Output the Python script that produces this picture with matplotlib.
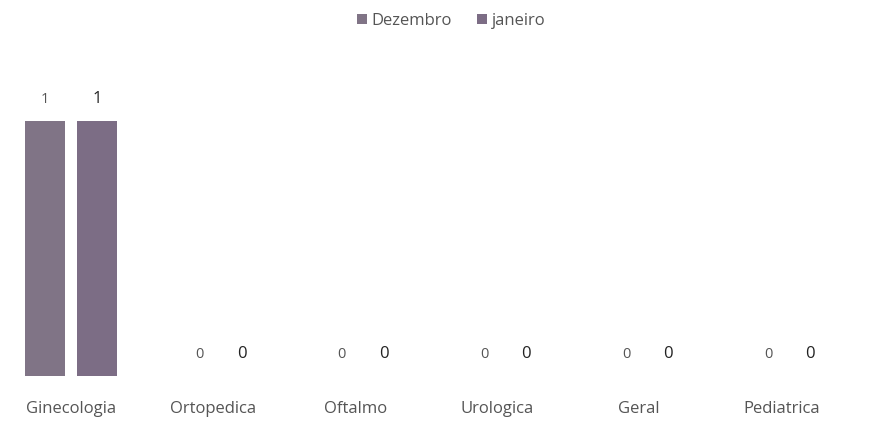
import numpy as np
import matplotlib.pyplot as plt

plt.rcParams['font.family'] = ['Open Sans', 'DejaVu Sans']

# dados
categorias = ['Ginecologia', 'Ortopedica', 'Oftalmo', 'Urologica', 'Geral', 'Pediatrica']
dezembro = [1, 0, 0, 0, 0, 0]
janeiro = [1, 0, 0, 0, 0, 0]

x = np.arange(len(categorias))
w = 0.28
off = 0.183

fig = plt.figure(figsize=(8.76, 4.23), dpi=100)
ax = fig.add_axes([0.0, 0.111, 0.973, 0.724])

b1 = ax.bar(x - off, dezembro, w, color='#807486', label='Dezembro')
b2 = ax.bar(x + off, janeiro, w, color='#7c6d85', label='janeiro')

for rect, v in zip(b1, dezembro):
    ax.annotate(str(v), (rect.get_x() + rect.get_width() / 2 + (0 if v else 0.09), v),
                xytext=(0, 10), textcoords='offset points',
                ha='center', va='bottom', fontsize=10.5, color='#555555')
for rect, v in zip(b2, janeiro):
    ax.annotate(str(v), (rect.get_x() + rect.get_width() / 2 + (0 if v else 0.02), v),
                xytext=(0, 10), textcoords='offset points',
                ha='center', va='bottom', fontsize=12, color='#222222')

ax.set_xlim(-0.5, 5.5)
ax.set_ylim(0, 1.2)
ax.set_xticks(x)
ax.set_xticklabels(categorias, fontsize=12, color='#555555')
ax.tick_params(axis='x', length=0, pad=18)
ax.set_yticks([])
for s in ax.spines.values():
    s.set_visible(False)

fig.legend(loc='upper center', bbox_to_anchor=(0.515, 1.005), ncol=2, frameon=False,
           fontsize=12, labelcolor='#555555', handlelength=0.6, handleheight=0.6,
           handletextpad=0.3, columnspacing=1.5)

fig.savefig('out.png', dpi=100)
